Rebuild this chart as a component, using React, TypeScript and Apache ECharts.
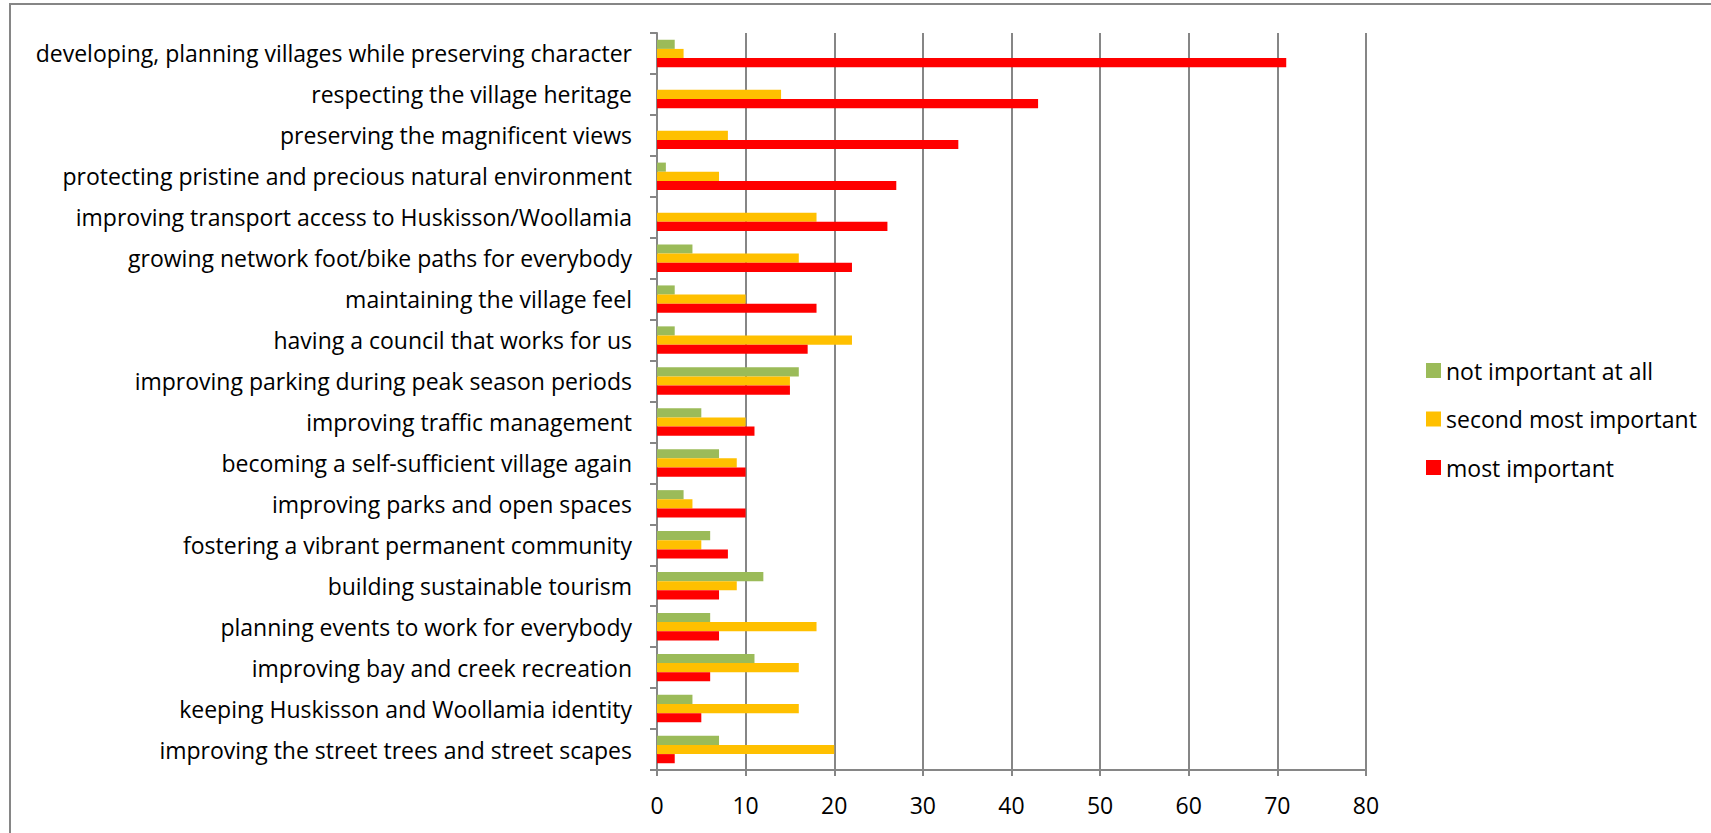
import React, { useEffect, useRef } from "react";
import * as echarts from "echarts";

const categories = [
  "developing, planning villages while preserving character",
  "respecting the village heritage",
  "preserving the magnificent views",
  "protecting pristine and precious natural environment",
  "improving transport access to Huskisson/Woollamia",
  "growing network foot/bike paths for everybody",
  "maintaining the village feel",
  "having a council that works for us",
  "improving parking during peak season periods",
  "improving traffic management",
  "becoming a self-sufficient village again",
  "improving parks and open spaces",
  "fostering a vibrant permanent community",
  "building sustainable tourism",
  "planning events to work for everybody",
  "improving bay and creek recreation",
  "keeping Huskisson and Woollamia identity",
  "improving the street trees and street scapes",
];

const notImportant = [2, 0, 0, 1, 0, 4, 2, 2, 16, 5, 7, 3, 6, 12, 6, 11, 4, 7];
const secondMost = [3, 14, 8, 7, 18, 16, 10, 22, 15, 10, 9, 4, 5, 9, 18, 16, 16, 20];
const mostImportant = [71, 43, 34, 27, 26, 22, 18, 17, 15, 11, 10, 10, 8, 7, 7, 6, 5, 2];

const seriesNames = ["not important at all", "second most important", "most important"];
const seriesColors = ["#9BBB59", "#FFC000", "#FF0000"];

const FONT = "Open Sans";
const FS = 23;
const GRID = "#868686";

export default function App() {
  const ref = useRef<HTMLDivElement>(null);
  useEffect(() => {
    if (!ref.current) return;
    const chart = echarts.init(ref.current, undefined, { renderer: "svg" });
    const data = [notImportant, secondMost, mostImportant];
    chart.setOption({
      animation: false,
      backgroundColor: "#ffffff",
      textStyle: { fontFamily: FONT },
      graphic: [
        {
          type: "rect",
          shape: { x: 10, y: 4, width: 1800, height: 900 },
          style: { fill: "none", stroke: GRID, lineWidth: 2 },
          silent: true,
        },
      ],
      legend: {
        orient: "vertical",
        left: 1421,
        top: 354,
        itemWidth: 15,
        itemHeight: 15,
        itemGap: 25.5,
        icon: "rect",
        data: seriesNames,
        textStyle: { fontFamily: FONT, fontSize: FS, color: "#000" },
      },
      grid: { left: 657, top: 33, width: 709, height: 737, containLabel: false },
      xAxis: {
        type: "value",
        min: 0,
        max: 80,
        interval: 10,
        axisLine: { show: true, lineStyle: { color: GRID, width: 2 } },
        axisTick: { show: true, length: 6, lineStyle: { color: GRID, width: 2 } },
        splitLine: { show: true, lineStyle: { color: GRID, width: 2 } },
        axisLabel: { fontFamily: FONT, fontSize: FS, color: "#000", margin: 23 },
      },
      yAxis: {
        type: "category",
        inverse: true,
        data: categories,
        axisLine: { show: true, lineStyle: { color: GRID, width: 2 } },
        axisTick: { show: true, length: 7, lineStyle: { color: GRID, width: 2 } },
        axisLabel: { fontFamily: FONT, fontSize: FS, color: "#000", margin: 25 },
        splitLine: { show: false },
      },
      series: seriesNames.map((name, i) => ({
        name,
        type: "bar",
        data: data[i],
        barGap: "0%",
        barCategoryGap: "33%",
        itemStyle: { color: seriesColors[i] },
      })),
    });
    return () => chart.dispose();
  }, []);
  return (
    <div
      ref={ref}
      style={{ position: "absolute", left: 0, top: 0, width: 1711, height: 833 }}
    />
  );
}
